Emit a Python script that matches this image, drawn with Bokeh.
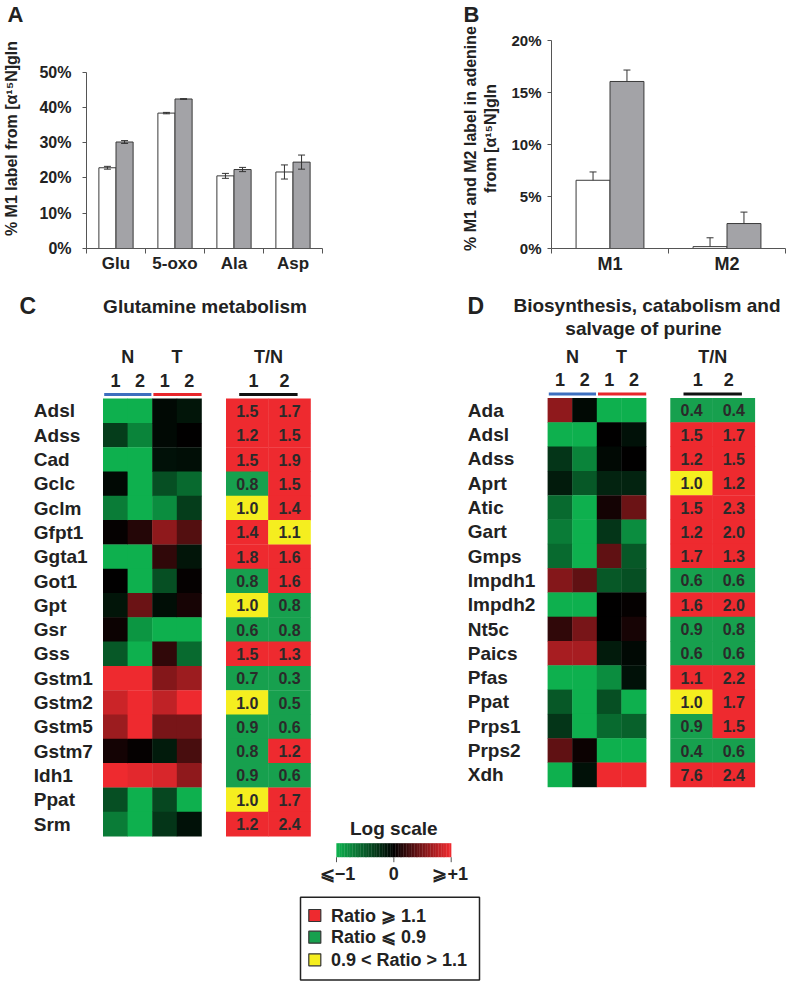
import numpy as np
from bokeh.plotting import figure
from bokeh.models import (Range1d, FixedTicker, NumeralTickFormatter, Whisker, TeeHead,
                          ColumnDataSource, LinearColorMapper)
from bokeh.layouts import column, row
from bokeh.embed import file_html
from bokeh.resources import INLINE
from bokeh.core.properties import value

FONT = "Liberation Sans"
INK = "#222222"

# ---------------- Panel A data ----------------
a_cats = ["Glu", "5-oxo", "Ala", "Asp"]
a_normal = [0.229, 0.384, 0.206, 0.217]
a_normal_err = [0.004, 0.002, 0.007, 0.020]
a_tumor = [0.302, 0.424, 0.224, 0.245]
a_tumor_err = [0.004, 0.001, 0.006, 0.020]
a_yticks = [0, 0.1, 0.2, 0.3, 0.4, 0.5]

# ---------------- Panel B data ----------------
b_cats = ["M1", "M2"]
b_normal = [0.0656, 0.0018]
b_normal_err = [0.008, 0.0085]
b_tumor = [0.1606, 0.024]
b_tumor_err = [0.011, 0.011]
b_yticks = [0, 0.05, 0.10, 0.15, 0.20]

# ---------------- Panel C data (log-scale heat values, T/N ratios) ----------------
c_genes = ["Adsl", "Adss", "Cad", "Gclc", "Gclm", "Gfpt1", "Ggta1", "Got1", "Gpt",
           "Gsr", "Gss", "Gstm1", "Gstm2", "Gstm5", "Gstm7", "Idh1", "Ppat", "Srm"]
c_n1 = [-1.0, -0.35, -1.0, -0.05, -0.7, 0.02, -1.0, 0.0, -0.12, 0.05, -0.5, 1.0, 0.85, 0.65, 0.08, 1.0, -0.45, -0.7]
c_n2 = [-1.0, -0.75, -1.0, -1.0, -1.0, 0.15, -1.0, -1.0, 0.45, -0.85, -1.0, 1.0, 1.0, 1.0, 0.02, 0.95, -1.0, -1.0]
c_t1 = [-0.05, -0.05, -0.1, -0.45, -0.8, 0.6, 0.2, -0.45, -0.08, -1.0, 0.2, 0.55, 0.8, 0.5, -0.15, 0.9, -0.4, -0.3]
c_t2 = [-0.12, 0.0, -0.08, -0.6, -0.35, 0.35, -0.12, 0.02, 0.1, -1.0, -0.6, 0.65, 1.0, 0.5, 0.3, 0.6, -1.0, -0.1]
c_tn1 = [1.5, 1.2, 1.5, 0.8, 1.0, 1.4, 1.8, 0.8, 1.0, 0.6, 1.5, 0.7, 1.0, 0.9, 0.8, 0.9, 1.0, 1.2]
c_tn2 = [1.7, 1.5, 1.9, 1.5, 1.4, 1.08, 1.6, 1.6, 0.8, 0.8, 1.3, 0.3, 0.5, 0.6, 1.2, 0.6, 1.7, 2.4]

# ---------------- Panel D data ----------------
d_genes = ["Ada", "Adsl", "Adss", "Aprt", "Atic", "Gart", "Gmps", "Impdh1", "Impdh2",
           "Nt5c", "Paics", "Pfas", "Ppat", "Prps1", "Prps2", "Xdh"]
d_n1 = [0.6, -1.0, -0.3, -0.15, -0.6, -0.7, -0.6, 0.55, -1.0, 0.2, 0.7, -1.0, -0.5, -0.3, 0.4, -1.0]
d_n2 = [-0.05, -1.0, -0.75, -0.5, -1.0, -1.0, -1.0, 0.4, -1.0, 0.5, 0.7, -1.0, -1.0, -1.0, 0.05, -0.1]
d_t1 = [-1.0, 0.0, -0.05, -0.2, 0.08, -0.3, 0.4, -0.5, 0.0, 0.0, -0.15, -0.8, -0.45, -0.6, -1.0, 1.0]
d_t2 = [-1.0, -0.1, 0.0, -0.2, 0.45, -0.8, -0.5, -0.45, 0.02, 0.1, -0.05, -0.1, -1.0, -0.55, -1.0, 1.0]
d_tn1 = [0.4, 1.5, 1.2, 1.0, 1.5, 1.2, 1.7, 0.6, 1.6, 0.9, 0.6, 1.12, 1.0, 0.9, 0.4, 7.6]
d_tn2 = [0.4, 1.7, 1.5, 1.2, 2.3, 2.0, 1.3, 0.6, 2.0, 0.8, 0.6, 2.2, 1.7, 1.5, 0.6, 2.4]

heat_cols = ["N", "T"]
sample_ids = ["1", "2"]
scale_ticks = [-1, 0, 1]
scale_tick_labels = ["\u2a7d\u22121", "0", "\u2a7e+1"]
legend_labels = ["Ratio \u2a7e 1.1", "Ratio \u2a7d 0.9", "0.9 < Ratio > 1.1"]

RED = "#ee2a2f"
TN_GREEN = "#17a04e"
YELLOW = "#f5ee1f"
legend_colors = [RED, TN_GREEN, YELLOW]

# palette green -> black -> red
def make_palette(n=256):
    g = np.array([14, 176, 78])
    r = np.array([238, 42, 47])
    out = []
    for t in np.linspace(-1, 1, n):
        c = (-t) * g if t < 0 else t * r
        out.append("#%02x%02x%02x" % tuple(int(round(v)) for v in c))
    return out

mapper = LinearColorMapper(palette=make_palette(), low=-1, high=1)


def style_text(kw=None):
    d = dict(text_font=value(FONT), text_font_style="bold", text_color=INK)
    if kw:
        d.update(kw)
    return d


FRAME_TOP = 28      # shared top border of the two bar panels (px)
FRAME_BOTTOM = 248  # pixel row of the zero line


def bar_panel(cats, nv, ne, tv, te, yticks, axis_top_px, width, borders, ylabel,
              ytick_size, cat_size, both_caps, letter, letter_offset,
              tick_standoff, label_standoff):
    n = len(cats)
    ymax = yticks[-1]
    y_end = ymax * (FRAME_BOTTOM - FRAME_TOP) / (FRAME_BOTTOM - axis_top_px)
    p = figure(width=width, height=290, x_range=Range1d(0, n),
               y_range=Range1d(0, y_end), output_backend="svg", toolbar_location=None,
               min_border_left=borders[0], min_border_right=borders[1],
               min_border_top=FRAME_TOP, min_border_bottom=290 - FRAME_BOTTOM)
    centers = np.arange(n) + 0.5
    bw = 0.29
    xn = centers - bw / 2
    xt = centers + bw / 2
    p.vbar(x=xn, top=nv, width=bw, fill_color="white", line_color="#3a3a3a", line_width=1)
    p.vbar(x=xt, top=tv, width=bw, fill_color="#a3a3a7", line_color="#3a3a3a", line_width=1)
    for xs, vals, errs in ((xn, nv, ne), (xt, tv, te)):
        vals = np.array(vals)
        errs = np.array(errs)
        src = ColumnDataSource(dict(base=xs, upper=vals + errs,
                                    lower=(vals - errs) if both_caps else vals))
        w = Whisker(base="base", upper="upper", lower="lower", source=src,
                    dimension="height", line_color="#333333", line_width=1, level="annotation",
                    upper_head=TeeHead(size=7, line_color="#333333", line_width=1),
                    lower_head=TeeHead(size=7, line_color="#333333", line_width=1) if both_caps else None)
        p.add_layout(w)
    p.grid.visible = False
    p.outline_line_color = None
    xa = p.xaxis[0]
    xa.ticker = FixedTicker(ticks=list(centers), minor_ticks=list(range(n + 1)))
    xa.major_label_overrides = {float(c): cat for c, cat in zip(centers, cats)}
    xa.major_tick_in = 0
    xa.major_tick_out = 0
    xa.minor_tick_in = 0
    xa.minor_tick_out = 5
    xa.minor_tick_line_color = "#555555"
    xa.axis_line_color = "#555555"
    xa.major_label_text_font = FONT
    xa.major_label_text_font_style = "bold"
    xa.major_label_text_font_size = cat_size
    xa.major_label_text_color = INK
    xa.major_label_standoff = 0
    ya = p.yaxis[0]
    ya.bounds = (0, ymax)
    ya.ticker = FixedTicker(ticks=yticks, minor_ticks=[])
    ya.formatter = NumeralTickFormatter(format="0%")
    ya.major_tick_in = 0
    ya.major_tick_out = 4
    ya.major_tick_line_color = "#555555"
    ya.axis_line_color = "#555555"
    ya.major_label_text_font = FONT
    ya.major_label_text_font_style = "bold"
    ya.major_label_text_font_size = ytick_size
    ya.major_label_text_color = INK
    ya.major_label_standoff = tick_standoff
    ya.axis_label = ylabel
    ya.axis_label_text_font = FONT
    ya.axis_label_text_font_style = "bold"
    ya.axis_label_text_font_size = "16px"
    ya.axis_label_text_color = INK
    ya.axis_label_standoff = label_standoff
    # panel letter as the figure title
    p.title.text = letter
    p.title.align = "left"
    p.title.vertical_align = "top"
    p.title.offset = letter_offset
    p.title.standoff = 0
    p.title.text_font = FONT
    p.title.text_font_style = "bold"
    p.title.text_font_size = "22px"
    p.title.text_color = INK
    return p


pA = bar_panel(a_cats, a_normal, a_normal_err, a_tumor, a_tumor_err, a_yticks, 71.7,
               393, (86, 71), "% M1 label from [\u03b1\u00b9\u2075N]gln",
               "16px", "17px", True, "A", -79, 11, 16)
pB = bar_panel(b_cats, b_normal, b_normal_err, b_tumor, b_tumor_err, b_yticks, 40.0,
               393, (158, 1),
               "% M1 and M2 label in adenine\nfrom [\u03b1\u00b9\u2075N]gln",
               "15px", "18px", False, "B", -88, 6, 9)

# ---------------- Bottom figure: heatmaps + legend ----------------
q = figure(width=786, height=691, x_range=Range1d(0, 786), y_range=Range1d(981, 290),
           output_backend="svg", toolbar_location=None, min_border=0,
           x_axis_location=None, y_axis_location=None)
q.grid.visible = False
q.outline_line_color = None

ROW_H = 24.3
HEAT_W = 24.6
TN_W = 42.2


def tn_color(r):
    if r >= 1.1:
        return RED
    if r <= 0.9:
        return TN_GREEN
    return YELLOW


def heatmap(genes, heat, tn1, tn2, label_x, heat_x, tn_x, top):
    n = len(genes)
    ys = top + (np.arange(n) + 0.5) * ROW_H
    for j, colvals in enumerate(heat):
        src = ColumnDataSource(dict(x=[heat_x + (j + 0.5) * HEAT_W] * n, y=ys, v=colvals))
        q.rect(x="x", y="y", width=HEAT_W + 0.4, height=ROW_H + 0.4, source=src,
               fill_color={"field": "v", "transform": mapper}, line_color=None)
    for j, ratios in enumerate((tn1, tn2)):
        xc = tn_x + (j + 0.5) * TN_W
        src = ColumnDataSource(dict(x=[xc] * n, y=ys, c=[tn_color(r) for r in ratios],
                                    t=["%.1f" % r for r in ratios]))
        q.rect(x="x", y="y", width=TN_W + 0.4, height=ROW_H + 0.4, source=src,
               fill_color="c", line_color=None)
        q.text(x="x", y="y", text="t", source=src, text_align="center", text_baseline="middle",
               text_font_size="16px", **style_text({"text_color": "#2a2a2a"}))
    q.text(x=[label_x] * n, y=ys, text=genes, text_align="left", text_baseline="middle",
           text_font_size="19px", **style_text())
    # headers
    hy, dy, ly = top - 41.5, top - 18.5, top - 4.2
    q.text(x=[heat_x + HEAT_W, heat_x + 3 * HEAT_W, tn_x + TN_W], y=[hy] * 3,
           text=heat_cols + ["T/N"], text_align="center", text_baseline="middle",
           text_font_size="18px", **style_text())
    q.text(x=[heat_x + (k + 0.5) * HEAT_W for k in range(4)] + [tn_x + TN_W - 15, tn_x + TN_W + 16],
           y=[dy] * 6, text=sample_ids * 3, text_align="center", text_baseline="middle",
           text_font_size="18px", **style_text())
    q.segment(x0=[heat_x + 1, heat_x + 2 * HEAT_W + 1, tn_x + 13],
              x1=[heat_x + 2 * HEAT_W - 1, heat_x + 4 * HEAT_W, tn_x + 2 * TN_W - 13],
              y0=[ly] * 3, y1=[ly] * 3, line_width=3,
              line_color=["#3d6fbf", "#e8262b", "#111111"])


heatmap(c_genes, [c_n1, c_n2, c_t1, c_t2], c_tn1, c_tn2, 33.3, 102.7, 225.7, 398.3)
heatmap(d_genes, [d_n1, d_n2, d_t1, d_t2], d_tn1, d_tn2, 467.3, 547.3, 670.0, 397.7)

# panel letters and titles
q.text(x=[19, 467], y=[305, 305], text=["C", "D"], text_align="left", text_baseline="middle",
       text_font_size="23px", **style_text())
q.text(x=[204.5, 646.5, 643], y=[306, 305, 328.3],
       text=["Glutamine metabolism", "Biosynthesis, catabolism and", "salvage of purine"],
       text_align="center", text_baseline="middle", text_font_size="19px", **style_text())

# colour scale legend
CB_X0, CB_X1, CB_Y0, CB_Y1 = 336.0, 450.7, 842.7, 856.7
grad = np.linspace(-1, 1, 72)
gw = (CB_X1 - CB_X0) / len(grad)
gsrc = ColumnDataSource(dict(x=CB_X0 + (np.arange(len(grad)) + 0.5) * gw,
                             y=[(CB_Y0 + CB_Y1) / 2] * len(grad), v=grad))
q.rect(x="x", y="y", width=gw + 0.3, height=CB_Y1 - CB_Y0, source=gsrc,
       fill_color={"field": "v", "transform": mapper}, line_color=None)
tick_x = [CB_X0 + (t + 1) / 2 * (CB_X1 - CB_X0) for t in scale_ticks]
q.segment(x0=tick_x, x1=tick_x, y0=[CB_Y1] * 3, y1=[CB_Y1 + 5] * 3, line_color="#555555", line_width=1)
q.text(x=[tick_x[0] + 1, tick_x[1], tick_x[2] - 1], y=[873] * 3, text=scale_tick_labels,
       text_align="center", text_baseline="middle", text_font_size="18px", **style_text())
q.text(x=[393.3], y=[828.3], text=["Log scale"], text_align="center", text_baseline="middle",
       text_font_size="19px", **style_text())

# category legend box
q.quad(left=[300], right=[479], top=[896.7], bottom=[979.5], fill_color=None,
       line_color="#222222", line_width=1.5)
leg_y = [915.0, 936.7, 959.3]
q.rect(x=[314.3] * 3, y=leg_y, width=12, height=12, fill_color=legend_colors,
       line_color="#333333", line_width=1.2)
q.text(x=[330.5] * 3, y=leg_y, text=legend_labels, text_align="left", text_baseline="middle",
       text_font_size="18px", **style_text())

layout = column(row(pA, pB, spacing=0), q, spacing=0)
open("out.html", "w").write(file_html(layout, INLINE))
